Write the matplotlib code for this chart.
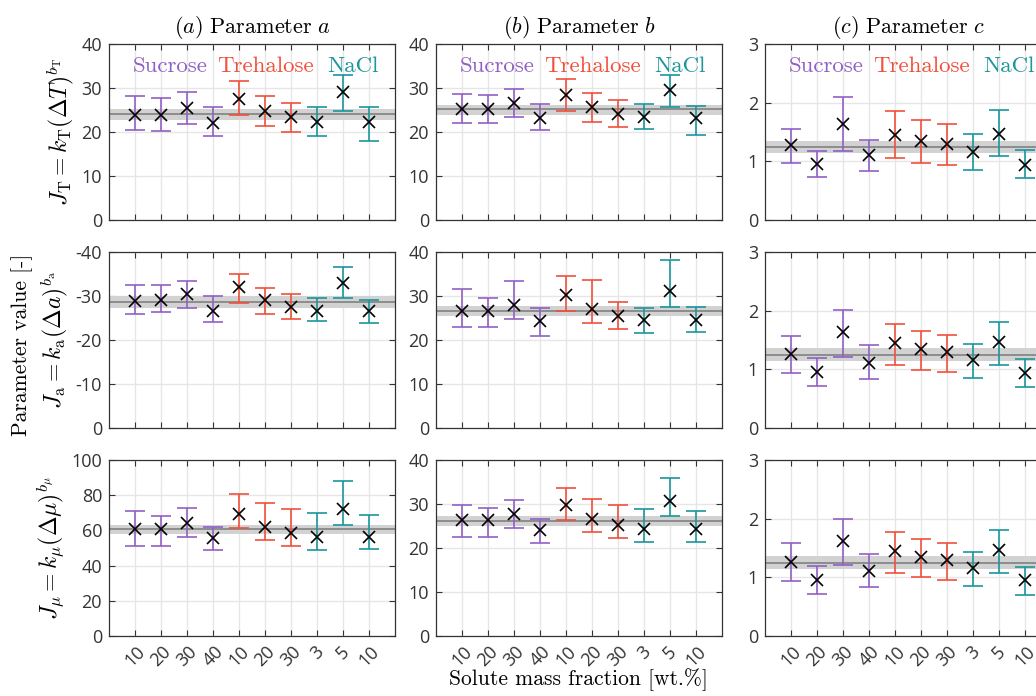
import matplotlib
matplotlib.use("Agg")
import matplotlib.pyplot as plt
import numpy as np

plt.rcParams['mathtext.fontset'] = 'cm'
plt.rcParams['axes.unicode_minus'] = False
plt.rcParams['font.family'] = ['Open Sans', 'DejaVu Sans']

# categories (solute mass fraction, wt.%)
tick_labels = ['10', '20', '30', '40', '10', '20', '30', '3', '5', '10']
groups = ['Sucrose'] * 4 + ['Trehalose'] * 3 + ['NaCl'] * 3
group_colors = {'Sucrose': '#9160c4', 'Trehalose': '#f0503c', 'NaCl': '#1a969c'}

# ---- row 1 : J_T ----
a_T = [23.9, 23.9, 25.4, 22.0, 27.6, 24.7, 23.3, 22.2, 29.0, 22.2]
a_T_hi = [28.1, 27.7, 29.1, 25.6, 31.6, 28.1, 26.6, 25.7, 32.9, 25.7]
a_T_lo = [20.5, 20.3, 21.8, 19.0, 23.8, 21.3, 19.9, 19.1, 24.8, 17.9]
b_T = [25.3, 25.3, 26.6, 23.1, 28.5, 25.6, 24.1, 23.3, 29.6, 23.1]
b_T_hi = [28.6, 28.5, 29.8, 26.3, 32.0, 28.8, 27.2, 26.3, 32.9, 25.9]
b_T_lo = [22.0, 22.0, 23.3, 20.5, 24.8, 22.3, 21.1, 20.6, 25.7, 19.4]
c_T = [1.27, 0.95, 1.63, 1.11, 1.45, 1.34, 1.29, 1.16, 1.46, 0.94]
c_T_hi = [1.55, 1.17, 2.09, 1.36, 1.85, 1.71, 1.64, 1.47, 1.87, 1.19]
c_T_lo = [0.98, 0.74, 1.18, 0.83, 1.06, 0.98, 0.94, 0.85, 1.09, 0.71]

# ---- row 2 : J_a ----
a_a = [-28.8, -29.0, -30.4, -26.7, -32.0, -29.0, -27.5, -26.7, -33.0, -26.7]
a_a_hi = [-31.7, -31.7, -33.6, -29.3, -35.5, -32.0, -30.3, -29.1, -36.4, -29.5]
a_a_lo = [-25.2, -25.5, -27.3, -23.4, -28.9, -26.1, -24.6, -23.8, -29.5, -24.2]
b_a = [26.5, 26.5, 28.0, 24.4, 30.2, 27.0, 25.5, 24.6, 31.1, 24.6]
b_a_hi = [31.7, 29.5, 33.3, 27.3, 34.6, 33.6, 28.6, 27.3, 38.2, 27.5]
b_a_lo = [22.9, 22.9, 24.8, 20.8, 26.7, 23.9, 22.6, 21.7, 27.5, 21.8]
c_a = [1.26, 0.95, 1.63, 1.10, 1.45, 1.34, 1.29, 1.16, 1.47, 0.94]
c_a_hi = [1.57, 1.20, 2.01, 1.41, 1.78, 1.65, 1.58, 1.44, 1.80, 1.17]
c_a_lo = [0.93, 0.71, 1.21, 0.84, 1.07, 0.99, 0.95, 0.85, 1.07, 0.70]

# ---- row 3 : J_mu ----
a_mu = [60.6, 60.6, 64.2, 55.8, 69.2, 62.1, 58.3, 56.4, 71.9, 56.4]
a_mu_hi = [71.1, 67.9, 72.5, 62.1, 80.9, 75.7, 71.9, 69.8, 88.0, 68.8]
a_mu_lo = [51.4, 51.4, 56.0, 48.8, 61.2, 54.3, 51.0, 48.9, 63.1, 49.3]
b_mu = [26.3, 26.3, 27.7, 24.2, 29.7, 26.6, 25.2, 24.3, 30.7, 24.3]
b_mu_hi = [29.7, 29.0, 30.9, 26.7, 33.6, 31.2, 29.7, 28.8, 36.0, 28.4]
b_mu_lo = [22.5, 22.6, 24.5, 21.2, 26.3, 23.6, 22.3, 21.3, 27.2, 21.4]
c_mu = [1.26, 0.96, 1.62, 1.10, 1.45, 1.34, 1.29, 1.16, 1.47, 0.95]
c_mu_hi = [1.58, 1.19, 2.00, 1.40, 1.78, 1.65, 1.58, 1.44, 1.81, 1.17]
c_mu_lo = [0.93, 0.71, 1.21, 0.84, 1.08, 1.00, 0.96, 0.85, 1.08, 0.70]

# mean value and band (lower, mean, upper) per panel
means = [[(22.7, 24.1, 25.3), (23.9, 25.2, 26.2), (1.15, 1.24, 1.34)],
         [(-27.3, -28.7, -30.1), (25.4, 26.7, 27.8), (1.14, 1.25, 1.37)],
         [(57.7, 60.8, 63.1), (24.9, 26.2, 27.2), (1.14, 1.25, 1.37)]]

panels = [[(a_T, a_T_lo, a_T_hi), (b_T, b_T_lo, b_T_hi), (c_T, c_T_lo, c_T_hi)],
          [(a_a, a_a_lo, a_a_hi), (b_a, b_a_lo, b_a_hi), (c_a, c_a_lo, c_a_hi)],
          [(a_mu, a_mu_lo, a_mu_hi), (b_mu, b_mu_lo, b_mu_hi), (c_mu, c_mu_lo, c_mu_hi)]]

ylims = [[(0, 40), (0, 40), (0, 3)],
         [(0, -40), (0, 40), (0, 3)],
         [(0, 100), (0, 40), (0, 3)]]
yticks = [[[0, 10, 20, 30, 40], [0, 10, 20, 30, 40], [0, 1, 2, 3]],
          [[0, -10, -20, -30, -40], [0, 10, 20, 30, 40], [0, 1, 2, 3]],
          [[0, 20, 40, 60, 80, 100], [0, 10, 20, 30, 40], [0, 1, 2, 3]]]

col_titles = [r'$(a)\ \mathrm{Parameter}\ a$', r'$(b)\ \mathrm{Parameter}\ b$',
              r'$(c)\ \mathrm{Parameter}\ c$']
row_labels = [r'$J_\mathrm{T} = k_\mathrm{T}(\Delta T)^{b_\mathrm{T}}$',
              r'$J_\mathrm{a} = k_\mathrm{a}(\Delta a)^{b_\mathrm{a}}$',
              r'$J_\mu = k_\mu(\Delta \mu)^{b_\mu}$']

group_names = ['Sucrose', 'Trehalose', 'NaCl']
group_text_x = [2.35, 6.0, 9.4]

W, H = 1036, 696
fig = plt.figure(figsize=(W / 100, H / 100), dpi=100)

lefts = [109, 436, 765]
tops = [44, 252, 460]
aw, ah = 286, 176
x = np.arange(1, 11)

for r in range(3):
    for c in range(3):
        ax = fig.add_axes([lefts[c] / W, 1 - (tops[r] + ah) / H, aw / W, ah / H])
        vals, lo, hi = panels[r][c]
        vals, lo, hi = np.array(vals), np.array(lo), np.array(hi)
        m_lo, m, m_hi = means[r][c]
        ax.axhspan(m_lo, m_hi, color='#d2d2d2', zorder=1, lw=0)
        ax.axhline(m, color='#7a7a7a', lw=1.1, zorder=2)
        for i in range(10):
            col = group_colors[groups[i]]
            ax.errorbar(x[i], vals[i], yerr=[[abs(vals[i] - lo[i])], [abs(hi[i] - vals[i])]],
                        fmt='none', ecolor=col, elinewidth=1.2, capsize=7, capthick=1.2, zorder=3)
        ax.plot(x, vals, 'x', color='black', ms=9, mew=1.2, zorder=4)
        ax.set_xlim(0, 11)
        ax.set_ylim(*ylims[r][c])
        ax.set_yticks(yticks[r][c])
        ax.set_xticks(x)
        if r == 2:
            ax.set_xticklabels(tick_labels, rotation=45, ha='center', va='top')
        else:
            ax.set_xticklabels([])
        ax.grid(True, color='#e6e6e6', lw=1)
        ax.set_axisbelow(True)
        ax.tick_params(direction='in', top=True, right=True, length=4, width=0.8,
                       colors='#333333', labelsize=13, pad=5)
        for s in ax.spines.values():
            s.set_color('#333333')
            s.set_linewidth(0.9)
        if r == 0:
            ax.set_title(col_titles[c], fontsize=16, pad=8)
            for name, gx in zip(group_names, group_text_x):
                ax.text(gx, ylims[r][c][1] * 0.875, name, family='cmr10',
                        color=group_colors[name], fontsize=16.5, ha='center', va='center')
        if c == 0:
            ax.set_ylabel(row_labels[r], fontsize=17, labelpad=3)

fig.text(22 / W, 1 - 345 / H, 'Parameter value [-]', family='cmr10', rotation=90,
         fontsize=15.5, ha='center', va='center')
fig.text(578 / W, 1 - 680 / H, 'Solute mass fraction [wt.%]', family='cmr10',
         fontsize=15.5, ha='center', va='center')

fig.savefig('out.png', dpi=100)
